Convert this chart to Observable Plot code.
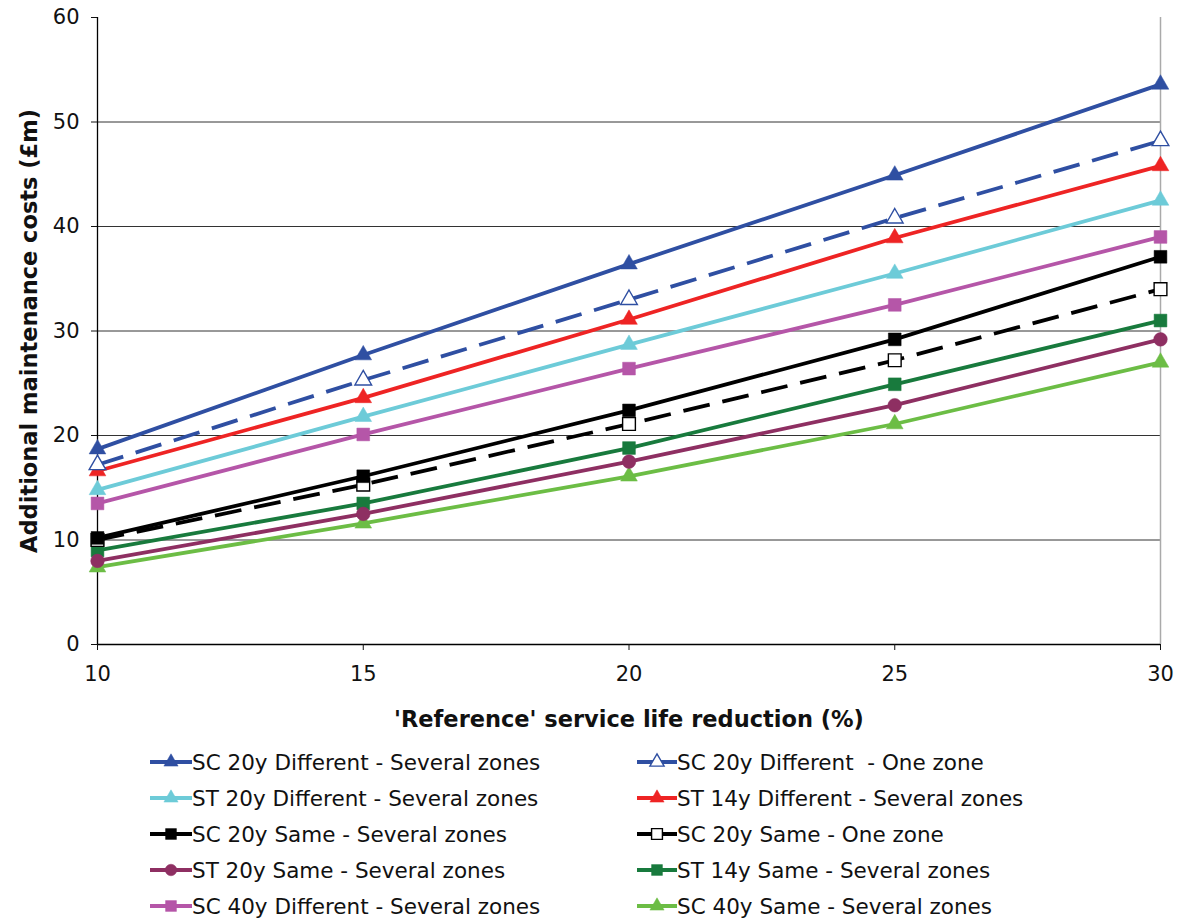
<!DOCTYPE html>
<html>
<head>
<meta charset="utf-8">
<script src="https://cdn.jsdelivr.net/npm/d3@7"></script>
<script src="https://cdn.jsdelivr.net/npm/@observablehq/plot@0.6"></script>
<style>
  html, body { margin: 0; padding: 0; background: #fff; }
  body { width: 1185px; font-family: "DejaVu Sans", Verdana, sans-serif; }
  #chart svg { display: block; }
  g[aria-label="y-axis label"] text, g[aria-label="x-axis label"] text { font-weight: bold; font-size: 22.5px; }
  #legend {
    display: grid;
    grid-template-columns: 487px 510px;
    margin-left: 150px;
    margin-top: 9px;
    row-gap: 10px;
    font-size: 21.5px;
    color: #111;
  }
  .item { display: flex; align-items: center; height: 26px; white-space: pre; }
  .item svg { flex: none; }
</style>
</head>
<body>
<div id="chart"></div>
<div id="legend"></div>
<script>
// Service life reduction (%) on the x axis
const reduction = [10, 15, 20, 25, 30];

// Additional maintenance costs (£m) for each scenario
const sc20DiffSeveral = [18.7, 27.7, 36.4, 44.9, 53.6];
const sc20DiffOne     = [17.2, 25.3, 33.0, 40.8, 48.2];
const st20DiffSeveral = [14.8, 21.8, 28.7, 35.5, 42.5];
const st14DiffSeveral = [16.6, 23.6, 31.1, 38.9, 45.8];
const sc20SameSeveral = [10.2, 16.1, 22.4, 29.2, 37.1];
const sc20SameOne     = [10.0, 15.3, 21.1, 27.2, 34.0];
const st20SameSeveral = [8.0, 12.5, 17.5, 22.9, 29.2];
const st14SameSeveral = [9.0, 13.5, 18.8, 24.9, 31.0];
const sc40DiffSeveral = [13.5, 20.1, 26.4, 32.5, 39.0];
const sc40SameSeveral = [7.4, 11.6, 16.1, 21.1, 27.0];

const yTicks = [0, 10, 20, 30, 40, 50, 60];
const xTicks = [10, 15, 20, 25, 30];

// Series in legend order (row by row, two columns)
const series = [
  {name: "SC 20y Different - Several zones", values: sc20DiffSeveral, color: "#2f4fa2", symbol: "triangle", hollow: false, dashed: false},
  {name: "SC 20y Different  - One zone",     values: sc20DiffOne,     color: "#2f4fa2", symbol: "triangle", hollow: true,  dashed: true},
  {name: "ST 20y Different - Several zones", values: st20DiffSeveral, color: "#6dcbd8", symbol: "triangle", hollow: false, dashed: false},
  {name: "ST 14y Different - Several zones", values: st14DiffSeveral, color: "#ee2424", symbol: "triangle", hollow: false, dashed: false},
  {name: "SC 20y Same - Several zones",      values: sc20SameSeveral, color: "#000000", symbol: "square",   hollow: false, dashed: false},
  {name: "SC 20y Same - One zone",           values: sc20SameOne,     color: "#000000", symbol: "square",   hollow: true,  dashed: true},
  {name: "ST 20y Same - Several zones",      values: st20SameSeveral, color: "#8e2f62", symbol: "circle",   hollow: false, dashed: false},
  {name: "ST 14y Same - Several zones",      values: st14SameSeveral, color: "#187a3d", symbol: "square",   hollow: false, dashed: false},
  {name: "SC 40y Different - Several zones", values: sc40DiffSeveral, color: "#b556a8", symbol: "square",   hollow: false, dashed: false},
  {name: "SC 40y Same - Several zones",      values: sc40SameSeveral, color: "#6cbd45", symbol: "triangle", hollow: false, dashed: false}
];

const markerR = {triangle: 6.2, square: 7.2, circle: 6.8};

function rows(s) {
  return reduction.map((x, i) => ({x, y: s.values[i], name: s.name}));
}

const marks = [
  Plot.gridY([10, 20, 30, 40, 50], {stroke: "#333", strokeOpacity: 1, strokeWidth: 1}),
  Plot.ruleX([30], {stroke: "#aaa", strokeWidth: 1.5}),
  Plot.ruleX([10], {stroke: "#000", strokeWidth: 1.3}),
  Plot.ruleY([0], {stroke: "#000", strokeWidth: 1.3}),
  Plot.axisY({ticks: yTicks, tickSize: 6, tickPadding: 12, label: "Additional maintenance costs (£m)",
              labelAnchor: "center", labelArrow: "none", labelOffset: 76}),
  Plot.axisX({ticks: xTicks, tickSize: 6, tickPadding: 16, label: "'Reference' service life reduction (%)",
              labelAnchor: "center", labelArrow: "none", labelOffset: 82})
];

// Draw from the bottom of the legend upward so the top series sit on top
for (const s of series.slice().reverse()) {
  const data = rows(s);
  marks.push(Plot.line(data, {
    x: "x", y: "y", stroke: s.color, strokeWidth: 3.8,
    strokeDasharray: s.dashed ? "27,13" : null, strokeLinecap: "butt"
  }));
  marks.push(Plot.dot(data, {
    x: "x", y: "y", symbol: () => s.symbol, r: markerR[s.symbol],
    fill: s.hollow ? "#fff" : s.color, stroke: s.color,
    strokeWidth: s.hollow ? 1.4 : 0.5
  }));
}

const chart = Plot.plot({
  width: 1185,
  height: 740,
  marginLeft: 97,
  marginRight: 25,
  marginTop: 17,
  marginBottom: 96,
  style: {fontSize: "21px", fontFamily: "'DejaVu Sans', Verdana, sans-serif", color: "#111", background: "#fff"},
  x: {domain: [10, 30]},
  y: {domain: [0, 60]},
  symbol: {type: "identity"},
  marks
});
document.getElementById("chart").appendChild(chart);

// Legend: line swatch with its marker, then the series name
const legend = d3.select("#legend");
series.forEach((s, i) => {
  const item = legend.append("div").attr("class", "item");
  const w = i % 2 === 0 ? 42 : 40;
  const svg = item.append("svg").attr("width", w).attr("height", 22);
  svg.append("line").attr("x1", 0).attr("x2", w).attr("y1", 11).attr("y2", 11)
    .attr("stroke", s.color).attr("stroke-width", 3.8);
  const sym = {triangle: d3.symbolTriangle, square: d3.symbolSquare, circle: d3.symbolCircle}[s.symbol];
  const r = markerR[s.symbol] * 0.85;
  svg.append("path").attr("d", d3.symbol(sym, r * r * Math.PI)())
    .attr("transform", `translate(${w / 2},11)`)
    .attr("fill", s.hollow ? "#fff" : s.color).attr("stroke", s.color)
    .attr("stroke-width", s.hollow ? 1.4 : 0.5);
  item.append("span").text(s.name);
});
</script>
</body>
</html>
